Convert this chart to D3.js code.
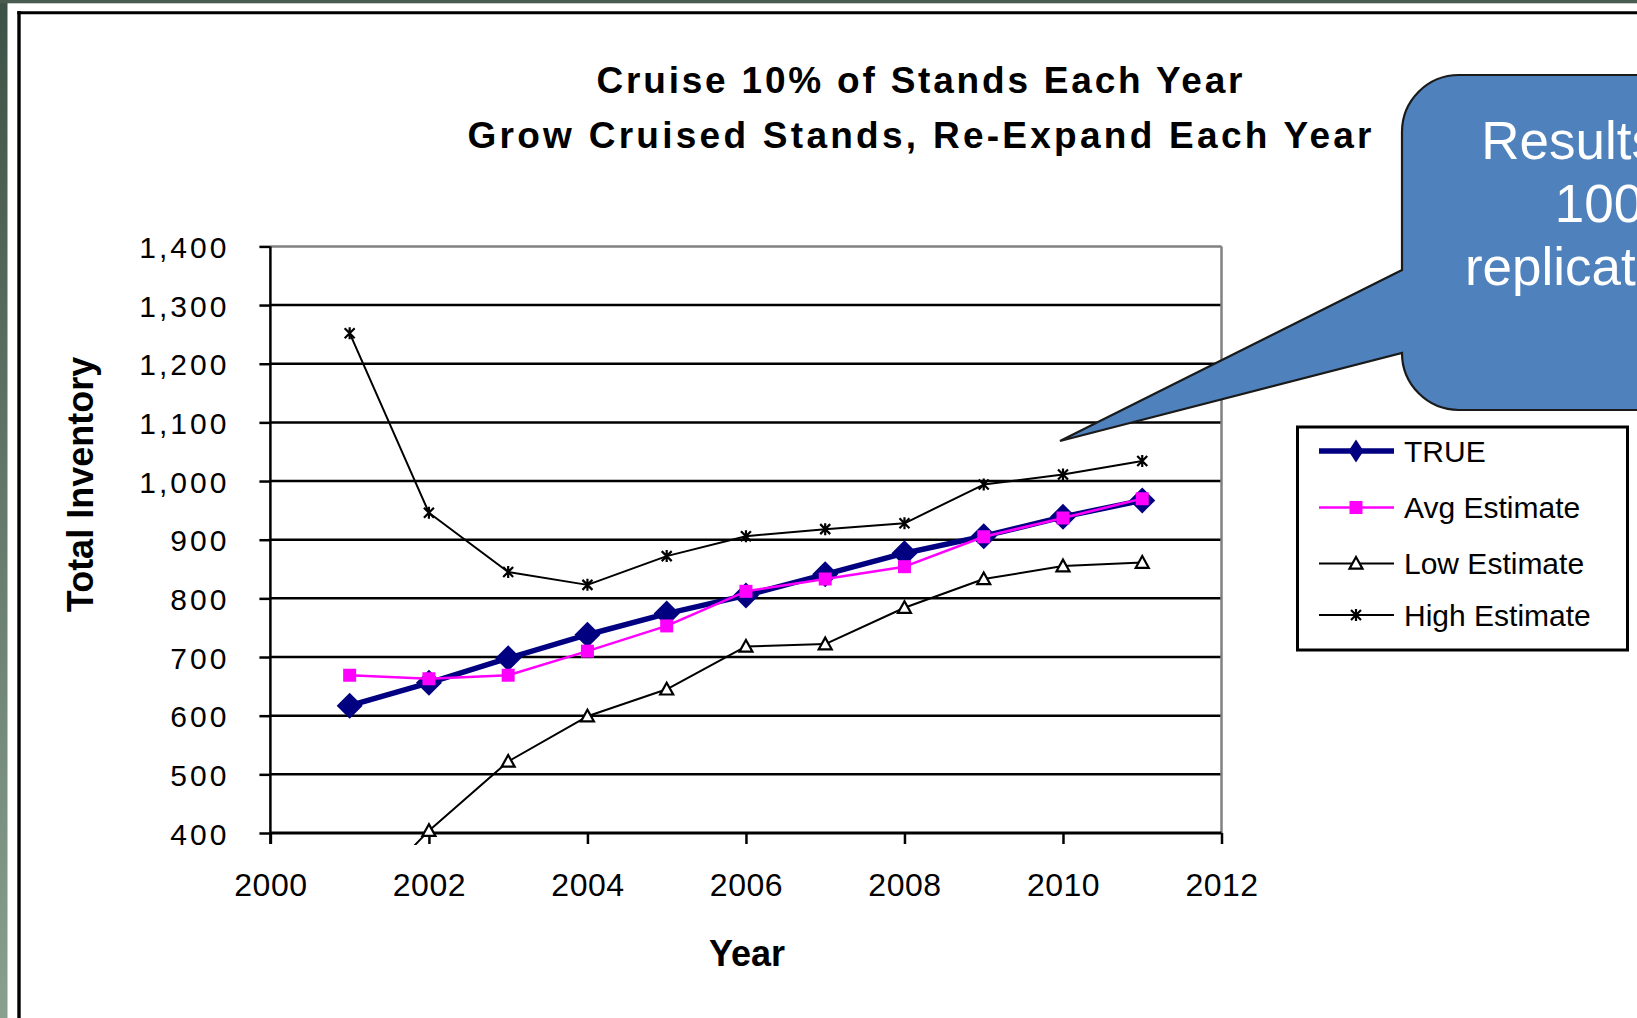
<!DOCTYPE html>
<html>
<head>
<meta charset="utf-8">
<script src="https://cdn.jsdelivr.net/npm/d3@7"></script>
<style>
  html, body { margin: 0; padding: 0; background: #fff; }
  svg { display: block; }
  text { font-family: "Liberation Sans", Arial, sans-serif; }
</style>
</head>
<body>
<svg id="chart" width="1637" height="1018"></svg>
<script>
// ---- data ----
const years = [2001, 2002, 2003, 2004, 2005, 2006, 2007, 2008, 2009, 2010, 2011];
const trueVals = [617, 656, 698, 738, 774, 805, 841, 877, 906, 939, 967];
const avgVals  = [669, 663, 669, 710, 753, 812, 833, 854, 905, 937, 970];
const lowVals  = [265, 404, 522, 599, 645, 718, 722, 784, 833, 855, 861];
const highVals = [1252, 946, 845, 823, 872, 906, 918, 928, 994, 1011, 1034];

const seriesNames = ["TRUE", "Avg Estimate", "Low Estimate", "High Estimate"];
const xTicks = [2000, 2002, 2004, 2006, 2008, 2010, 2012];
const yTicks = [400, 500, 600, 700, 800, 900, 1000, 1100, 1200, 1300, 1400];
const titleLines = ["Cruise 10% of Stands Each Year", "Grow Cruised Stands, Re-Expand Each Year"];
const calloutLines = ["Results of", "100", "replications"];

const svg = d3.select("#chart");

// ---- slide background: green edge strips and black frame ----
const defs = svg.append("defs");
const grad = defs.append("linearGradient").attr("id", "edgeGrad")
  .attr("x1", 0).attr("y1", 0).attr("x2", 0).attr("y2", 1);
grad.append("stop").attr("offset", "0%").attr("stop-color", "#3d5246");
grad.append("stop").attr("offset", "100%").attr("stop-color", "#8aa08f");
svg.append("rect").attr("x", 0).attr("y", 0).attr("width", 7.5).attr("height", 1018).attr("fill", "url(#edgeGrad)");
svg.append("rect").attr("x", 0).attr("y", 0).attr("width", 1637).attr("height", 3.3).attr("fill", "#4a5c51");
svg.append("line").attr("x1", 19).attr("x2", 19).attr("y1", 11).attr("y2", 1018)
  .attr("stroke", "#000").attr("stroke-width", 3.4);
svg.append("line").attr("x1", 17.3).attr("x2", 1637).attr("y1", 12.7).attr("y2", 12.7)
  .attr("stroke", "#000").attr("stroke-width", 3);

// ---- scales ----
const x = d3.scaleLinear().domain([2000, 2012]).range([270.4, 1221.5]);
const y = d3.scaleLinear().domain([400, 1400]).range([833, 246.4]);
const fmt = d3.format(",");

// ---- title ----
const titleY = [93, 148];
const titleLen = [646, 904];
titleLines.forEach((t, i) => {
  svg.append("text")
    .attr("x", 919.5).attr("y", titleY[i])
    .attr("text-anchor", "middle")
    .attr("font-size", 37).attr("font-weight", "bold")
    .attr("textLength", titleLen[i]).attr("lengthAdjust", "spacing")
    .attr("fill", "#000")
    .text(t);
});

// ---- gridlines ----
const plot = svg.append("g");
plot.selectAll("line.grid").data(yTicks.filter(v => v > 400 && v < 1400)).enter()
  .append("line").attr("class", "grid")
  .attr("x1", x(2000)).attr("x2", x(2012))
  .attr("y1", d => y(d)).attr("y2", d => y(d))
  .attr("stroke", "#000").attr("stroke-width", 2.5);

// plot area border (top and right) in grey
plot.append("line").attr("x1", x(2000)).attr("x2", x(2012)).attr("y1", y(1400)).attr("y2", y(1400))
  .attr("stroke", "#808080").attr("stroke-width", 2.5);
plot.append("line").attr("x1", x(2012)).attr("x2", x(2012)).attr("y1", y(1400)).attr("y2", y(400))
  .attr("stroke", "#808080").attr("stroke-width", 2.5);

// ---- axes ----
const yAxis = d3.axisLeft(y).tickValues(yTicks).tickFormat(fmt).tickSize(11).tickPadding(0);
const gy = svg.append("g").attr("transform", `translate(${x(2000)},0)`).call(yAxis);
gy.select(".domain").attr("stroke", "#000").attr("stroke-width", 2.5)
  .attr("d", `M0,${y(1400)}V${y(400) + 11}`);
gy.selectAll(".tick line").attr("stroke", "#000").attr("stroke-width", 2.5);
gy.selectAll(".tick text")
  .attr("x", -41).attr("dy", null).attr("y", 11)
  .attr("font-size", 30).attr("letter-spacing", 3)
  .attr("font-family", "Liberation Sans, Arial, sans-serif")
  .attr("fill", "#000").attr("text-anchor", "end");

const xAxis = d3.axisBottom(x).tickValues(xTicks).tickFormat(d3.format("d")).tickSize(11).tickPadding(0);
const gx = svg.append("g").attr("transform", `translate(0,${y(400)})`).call(xAxis);
gx.select(".domain").attr("stroke", "#000").attr("stroke-width", 3)
  .attr("d", `M${x(2000)},0H${x(2012)}`);
gx.selectAll(".tick line").attr("stroke", "#000").attr("stroke-width", 2.5);
gx.selectAll(".tick text")
  .attr("y", 63).attr("dy", null)
  .attr("font-size", 32).attr("letter-spacing", 0.5)
  .attr("font-family", "Liberation Sans, Arial, sans-serif")
  .attr("fill", "#000").attr("text-anchor", "middle");

// ---- axis titles ----
svg.append("text")
  .attr("transform", "translate(93,484.5) rotate(-90)")
  .attr("text-anchor", "middle").attr("font-size", 36).attr("font-weight", "bold")
  .text("Total Inventory");
svg.append("text")
  .attr("x", 747).attr("y", 966)
  .attr("text-anchor", "middle").attr("font-size", 36).attr("font-weight", "bold")
  .text("Year");

// ---- series ----
defs.append("clipPath").attr("id", "plotClip")
  .append("rect").attr("x", x(2000)).attr("y", y(1400))
  .attr("width", x(2012) - x(2000)).attr("height", y(400) - y(1400) + 12);

const line = d3.line().x(d => x(d[0])).y(d => y(d[1]));
const zip = vals => years.map((yr, i) => [yr, vals[i]]);

const series = [
  { name: seriesNames[0], vals: trueVals, color: "#000080", width: 5.5, marker: "diamond" },
  { name: seriesNames[1], vals: avgVals,  color: "#ff00ff", width: 2.5, marker: "square" },
  { name: seriesNames[2], vals: lowVals,  color: "#000000", width: 2,   marker: "triangle" },
  { name: seriesNames[3], vals: highVals, color: "#000000", width: 2,   marker: "star" }
];

function markerPath(type, s) {
  switch (type) {
    case "diamond": return `M0,${-s}L${s},0L0,${s}L${-s},0Z`;
    case "square": return `M${-s},${-s}H${s}V${s}H${-s}Z`;
    case "triangle": return `M0,${-s}L${s},${s * 0.8}H${-s}Z`;
    case "star": return `M${-s},${-s}L${s},${s}M${s},${-s}L${-s},${s}M0,${-s * 1.2}V${s * 1.2}`;
  }
}
const markerSize = { diamond: 13, square: 6.5, triangle: 6.5, star: 5 };

function drawMarker(g, type, color) {
  const s = markerSize[type];
  const p = g.append("path").attr("d", markerPath(type, s));
  if (type === "diamond" || type === "square") {
    p.attr("fill", color).attr("stroke", "none");
  } else if (type === "triangle") {
    p.attr("fill", "#fff").attr("stroke", color).attr("stroke-width", 2.2);
  } else {
    p.attr("fill", "none").attr("stroke", color).attr("stroke-width", 2.2);
  }
}

const seriesG = svg.append("g").attr("clip-path", "url(#plotClip)");
series.forEach(s => {
  const g = seriesG.append("g");
  g.append("path").datum(zip(s.vals))
    .attr("d", line).attr("fill", "none")
    .attr("stroke", s.color).attr("stroke-width", s.width)
    .attr("stroke-linejoin", "round");
  zip(s.vals).forEach(d => {
    const m = g.append("g").attr("transform", `translate(${x(d[0])},${y(d[1])})`);
    drawMarker(m, s.marker, s.color);
  });
});

// ---- legend ----
const legend = svg.append("g");
legend.append("rect").attr("x", 1297.5).attr("y", 427).attr("width", 330).attr("height", 223)
  .attr("fill", "#fff").attr("stroke", "#000").attr("stroke-width", 3);
const legendY = [451, 507.5, 563.5, 615];
series.forEach((s, i) => {
  const ly = legendY[i];
  legend.append("line").attr("x1", 1319).attr("x2", 1394).attr("y1", ly).attr("y2", ly)
    .attr("stroke", s.color).attr("stroke-width", s.width);
  const m = legend.append("g").attr("transform", `translate(1356,${ly})`);
  if (s.marker === "diamond") {
    m.append("path").attr("d", "M0,-11.5L7.5,0L0,11.5L-7.5,0Z").attr("fill", s.color);
  } else {
    drawMarker(m, s.marker, s.color);
  }
  legend.append("text").attr("x", 1404).attr("y", ly + 10.5)
    .attr("font-size", 30).attr("fill", "#000").text(s.name);
});

// ---- callout ----
const r = 57;
const callout = `M1402,${75 + r}A${r},${r} 0 0 1 ${1402 + r},75H1760V410H${1402 + r}` +
  `A${r},${r} 0 0 1 1402,${410 - r}L1060,441L1402,270Z`;
svg.append("path").attr("d", callout)
  .attr("fill", "#4f81bd").attr("stroke", "#1a1a1a").attr("stroke-width", 2.2);
const calloutY = [159, 222, 285];
calloutLines.forEach((t, i) => {
  svg.append("text").attr("x", 1599).attr("y", calloutY[i])
    .attr("text-anchor", "middle").attr("font-size", 53).attr("fill", "#fff")
    .text(t);
});
</script>
</body>
</html>
